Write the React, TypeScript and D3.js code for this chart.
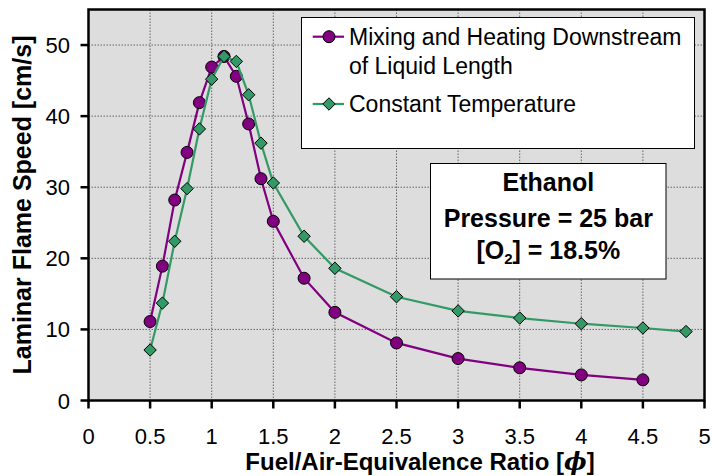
import React from "react";
import * as d3 from "d3";

// Equivalence ratios and laminar flame speeds (cm/s)
const phiMixing = [0.5, 0.6, 0.7, 0.8, 0.9, 1.0, 1.1, 1.2, 1.3, 1.4, 1.5, 1.75, 2, 2.5, 3, 3.5, 4, 4.5];
const speedMixing = [11.1, 18.9, 28.2, 34.9, 41.9, 46.9, 48.4, 45.6, 38.9, 31.2, 25.2, 17.2, 12.4, 8.1, 5.9, 4.6, 3.6, 2.9];
const phiConstT = [0.5, 0.6, 0.7, 0.8, 0.9, 1.0, 1.1, 1.2, 1.3, 1.4, 1.5, 1.75, 2, 2.5, 3, 3.5, 4, 4.5, 4.85];
const speedConstT = [7.1, 13.7, 22.4, 29.8, 38.2, 45.2, 48.4, 47.7, 43.0, 36.2, 30.6, 23.1, 18.6, 14.6, 12.6, 11.6, 10.8, 10.2, 9.7];

const xTicks = [0, 0.5, 1, 1.5, 2, 2.5, 3, 3.5, 4, 4.5, 5];
const yTicks = [0, 10, 20, 30, 40, 50];

const seriesNames = ["Mixing and Heating Downstream", "of Liquid Length", "Constant Temperature"];
const infoLines = ["Ethanol", "Pressure = 25 bar"];

const PURPLE = "#800080";
const GREEN = "#339966";
const FONT = "'Liberation Sans', Arial, sans-serif";

export default function App() {
  const W = 712, H = 476;
  const left = 88.5, right = 704.5, top = 9.5, bottom = 400.5;
  const x = d3.scaleLinear().domain([0, 5]).range([left, right]);
  const y = d3.scaleLinear().domain([0, 55]).range([bottom, top]);

  const line = d3.line<[number, number]>().x((d) => x(d[0])).y((d) => y(d[1]));
  const mixPts: [number, number][] = phiMixing.map((p, i) => [p, speedMixing[i]]);
  const ctPts: [number, number][] = phiConstT.map((p, i) => [p, speedConstT[i]]);

  const diamond = (cx: number, cy: number, r: number) =>
    `M${cx},${cy - r}L${cx + r},${cy}L${cx},${cy + r}L${cx - r},${cy}Z`;

  return (
    <svg
      width={W}
      height={H}
      style={{ position: "fixed", left: 0, top: 0, background: "#fff" }}
      fontFamily={FONT}
    >
      <rect x={0} y={0} width={W} height={H} fill="#fff" />
      {/* plot area */}
      <rect x={left} y={top} width={right - left} height={bottom - top} fill="#dddddd" />
      {/* gridlines */}
      {xTicks.filter((t) => t > 0 && t < 5).map((t) => (
        <line key={"gx" + t} x1={x(t)} x2={x(t)} y1={top} y2={bottom} stroke="#666" strokeWidth={1} strokeDasharray="1.5 1.5" />
      ))}
      {yTicks.filter((t) => t > 0).map((t) => (
        <line key={"gy" + t} x1={left} x2={right} y1={y(t)} y2={y(t)} stroke="#666" strokeWidth={1} strokeDasharray="1.5 1.5" />
      ))}
      {/* series */}
      <path d={line(mixPts) || ""} fill="none" stroke={PURPLE} strokeWidth={2.2} />
      {mixPts.map((d, i) => (
        <circle key={"m" + i} cx={x(d[0])} cy={y(d[1])} r={6} fill={PURPLE} stroke="#000" strokeWidth={1} />
      ))}
      <path d={line(ctPts) || ""} fill="none" stroke={GREEN} strokeWidth={2.2} />
      {ctPts.map((d, i) => (
        <path key={"c" + i} d={diamond(x(d[0]), y(d[1]), 6.2)} fill={GREEN} stroke="#000" strokeWidth={1} />
      ))}
      {/* frame */}
      <rect x={left} y={top} width={right - left} height={bottom - top} fill="none" stroke="#000" strokeWidth={2.5} />
      {/* ticks */}
      {xTicks.map((t) => (
        <g key={"tx" + t}>
          <line x1={x(t)} x2={x(t)} y1={bottom} y2={bottom + 8} stroke="#000" strokeWidth={2.5} />
          <text x={x(t)} y={444} textAnchor="middle" fontSize={22}>{t}</text>
        </g>
      ))}
      {yTicks.map((t) => (
        <g key={"ty" + t}>
          <line x1={left - 8} x2={left} y1={y(t)} y2={y(t)} stroke="#000" strokeWidth={2.5} />
          <text x={70} y={y(t) + 8} textAnchor="end" fontSize={22}>{t}</text>
        </g>
      ))}
      {/* axis titles */}
      <text x={420} y={470} textAnchor="middle" fontSize={24} fontWeight="bold">
        Fuel/Air-Equivalence Ratio [<tspan fontStyle="italic" fontFamily="'DejaVu Serif', serif">ϕ</tspan>]
      </text>
      <text transform="translate(31,205) rotate(-90)" textAnchor="middle" fontSize={25} fontWeight="bold">
        Laminar Flame Speed [cm/s]
      </text>
      {/* legend */}
      <rect x={301.5} y={17.5} width={393} height={131} fill="#fff" stroke="#000" strokeWidth={1} />
      <line x1={312.7} x2={344} y1={36.7} y2={36.7} stroke={PURPLE} strokeWidth={2.2} />
      <circle cx={329} cy={36.7} r={6} fill={PURPLE} stroke="#000" strokeWidth={1} />
      <text x={349} y={45} fontSize={23}>{seriesNames[0]}</text>
      <text x={349} y={74} fontSize={23}>{seriesNames[1]}</text>
      <line x1={312.7} x2={344} y1={104} y2={104} stroke={GREEN} strokeWidth={2.2} />
      <path d={diamond(329, 104, 6.2)} fill={GREEN} stroke="#000" strokeWidth={1} />
      <text x={349} y={112.3} fontSize={23}>{seriesNames[2]}</text>
      {/* info box */}
      <rect x={430.5} y={163.5} width={235.5} height={115.5} fill="#fff" stroke="#000" strokeWidth={1} />
      <g fontWeight="bold" fontSize={25} textAnchor="middle">
        <text x={548.3} y={190.5}>{infoLines[0]}</text>
        <text x={548.3} y={227}>{infoLines[1]}</text>
        <text x={548.3} y={259}>
          [O<tspan fontSize={15} dy={5}>2</tspan><tspan dy={-5}>] = 18.5%</tspan>
        </text>
      </g>
    </svg>
  );
}
